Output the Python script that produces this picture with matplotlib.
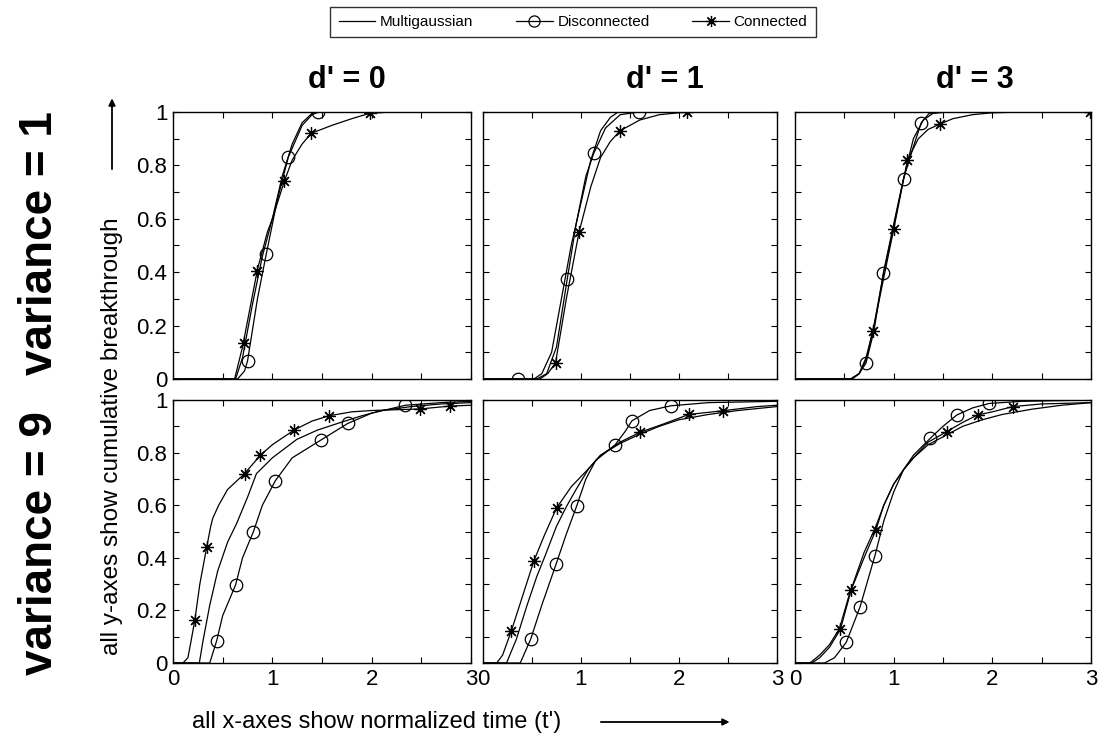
import matplotlib
matplotlib.use('Agg')
import matplotlib.pyplot as plt
from matplotlib.lines import Line2D
from matplotlib.ticker import MultipleLocator, FuncFormatter

plt.rcParams['font.family'] = ['Liberation Sans', 'DejaVu Sans']

# column / row headings
d_labels = ["d' = 0", "d' = 1", "d' = 3"]
var_labels = ['variance = 1', 'variance = 9']
series_names = ['Multigaussian', 'Disconnected', 'Connected']

# ---- variance = 1 ----
# d' = 0
mg_v1_d0 = ([0, 0.63, 0.70, 0.80, 0.90, 1.00, 1.10, 1.20, 1.30, 1.40, 1.50, 3.0],
            [0, 0.00, 0.08, 0.28, 0.46, 0.60, 0.76, 0.88, 0.96, 0.995, 1.0, 1.0])
dc_v1_d0 = ([0, 0.65, 0.72, 0.75, 0.85, 0.94, 1.05, 1.16, 1.30, 1.40, 1.46, 3.0],
            [0, 0.00, 0.03, 0.067, 0.30, 0.47, 0.67, 0.83, 0.95, 0.99, 1.0, 1.0])
cn_v1_d0 = ([0, 0.62, 0.70, 0.85, 0.95, 1.00, 1.12, 1.20, 1.30, 1.39, 1.60, 1.80, 1.98, 2.2, 3.0],
            [0, 0.00, 0.12, 0.41, 0.55, 0.60, 0.74, 0.82, 0.88, 0.92, 0.95, 0.975, 0.995, 1.0, 1.0])
dc_pts_v1_d0 = ([0.75, 0.94, 1.16, 1.46], [0.067, 0.47, 0.83, 1.0])
cn_pts_v1_d0 = ([0.715, 0.85, 1.12, 1.386, 1.98], [0.136, 0.406, 0.743, 0.92, 0.995])

# d' = 1
mg_v1_d1 = ([0, 0.52, 0.60, 0.70, 0.80, 0.90, 1.00, 1.10, 1.20, 1.30, 1.38, 3.0],
            [0, 0.00, 0.02, 0.10, 0.30, 0.50, 0.66, 0.82, 0.93, 0.98, 1.0, 1.0])
dc_v1_d1 = ([0, 0.55, 0.65, 0.75, 0.86, 0.95, 1.05, 1.13, 1.25, 1.40, 1.59, 3.0],
            [0, 0.00, 0.02, 0.12, 0.375, 0.58, 0.76, 0.845, 0.94, 0.99, 1.0, 1.0])
cn_v1_d1 = ([0, 0.58, 0.66, 0.74, 0.85, 0.98, 1.10, 1.20, 1.30, 1.40, 1.60, 1.80, 2.08, 3.0],
            [0, 0.00, 0.02, 0.06, 0.30, 0.55, 0.72, 0.83, 0.89, 0.93, 0.97, 0.99, 1.0, 1.0])
dc_pts_v1_d1 = ([0.36, 0.86, 1.13, 1.59], [0.0, 0.375, 0.845, 1.0])
cn_pts_v1_d1 = ([0.74, 0.98, 1.40, 2.08], [0.06, 0.55, 0.93, 1.0])

# d' = 3
mg_v1_d3 = ([0, 0.56, 0.65, 0.72, 0.80, 0.90, 1.00, 1.10, 1.20, 1.30, 1.40, 1.55, 3.0],
            [0, 0.00, 0.02, 0.07, 0.20, 0.40, 0.57, 0.75, 0.90, 0.97, 0.995, 1.0, 1.0])
dc_v1_d3 = ([0, 0.58, 0.65, 0.72, 0.80, 0.895, 1.00, 1.10, 1.20, 1.28, 1.36, 1.50, 3.0],
            [0, 0.00, 0.02, 0.06, 0.18, 0.396, 0.58, 0.75, 0.87, 0.96, 0.995, 1.0, 1.0])
cn_v1_d3 = ([0, 0.57, 0.65, 0.72, 0.79, 0.90, 1.00, 1.14, 1.25, 1.35, 1.47, 1.60, 1.80, 2.0, 2.3, 3.0],
            [0, 0.00, 0.02, 0.08, 0.18, 0.38, 0.56, 0.82, 0.90, 0.935, 0.955, 0.975, 0.99, 0.997, 1.0, 1.0])
dc_pts_v1_d3 = ([0.72, 0.895, 1.10, 1.28], [0.06, 0.396, 0.75, 0.96])
cn_pts_v1_d3 = ([0.79, 1.00, 1.14, 1.47, 2.99], [0.18, 0.56, 0.82, 0.955, 1.0])

# ---- variance = 9 ----
# d' = 0
mg_v9_d0 = ([0, 0.265, 0.30, 0.37, 0.45, 0.55, 0.64, 0.75, 0.84, 1.00, 1.245, 1.45, 1.65, 1.90, 2.10, 2.40, 2.70, 3.0],
            [0, 0.00, 0.08, 0.22, 0.35, 0.46, 0.53, 0.63, 0.72, 0.78, 0.85, 0.885, 0.91, 0.94, 0.96, 0.975, 0.985, 0.99])
dc_v9_d0 = ([0, 0.37, 0.44, 0.50, 0.63, 0.70, 0.81, 0.90, 1.03, 1.20, 1.49, 1.76, 2.00, 2.34, 2.70, 3.0],
            [0, 0.00, 0.085, 0.18, 0.297, 0.40, 0.50, 0.60, 0.693, 0.78, 0.848, 0.911, 0.95, 0.98, 0.99, 0.995])
cn_v9_d0 = ([0, 0.10, 0.15, 0.18, 0.22, 0.27, 0.34, 0.38, 0.40, 0.46, 0.55, 0.72, 0.88, 1.00, 1.22, 1.40, 1.57, 1.80, 2.00, 2.49, 2.79, 3.0],
            [0, 0.00, 0.02, 0.08, 0.163, 0.30, 0.442, 0.52, 0.55, 0.60, 0.66, 0.72, 0.79, 0.83, 0.886, 0.92, 0.94, 0.955, 0.96, 0.966, 0.977, 0.98])
dc_pts_v9_d0 = ([0.44, 0.63, 0.81, 1.03, 1.49, 1.76, 2.34], [0.085, 0.297, 0.50, 0.693, 0.848, 0.911, 0.98])
cn_pts_v9_d0 = ([0.22, 0.34, 0.72, 0.88, 1.22, 1.57, 2.49, 2.79], [0.163, 0.442, 0.72, 0.79, 0.886, 0.94, 0.966, 0.977])

# d' = 1
mg_v9_d1 = ([0, 0.24, 0.34, 0.45, 0.55, 0.63, 0.75, 0.85, 0.95, 1.08, 1.20, 1.40, 1.60, 1.80, 2.00, 2.30, 2.60, 3.0],
            [0, 0.00, 0.09, 0.22, 0.33, 0.404, 0.52, 0.594, 0.66, 0.74, 0.79, 0.835, 0.87, 0.90, 0.925, 0.945, 0.96, 0.975])
dc_v9_d1 = ([0, 0.38, 0.486, 0.60, 0.745, 0.85, 0.956, 1.05, 1.15, 1.25, 1.347, 1.45, 1.52, 1.70, 1.918, 2.30, 3.0],
            [0, 0.00, 0.09, 0.22, 0.375, 0.49, 0.597, 0.70, 0.77, 0.80, 0.829, 0.88, 0.921, 0.96, 0.978, 0.99, 0.995])
cn_v9_d1 = ([0, 0.14, 0.20, 0.29, 0.40, 0.52, 0.62, 0.75, 0.90, 1.08, 1.20, 1.40, 1.60, 1.85, 2.10, 2.445, 2.80, 3.0],
            [0, 0.00, 0.03, 0.123, 0.25, 0.389, 0.48, 0.589, 0.67, 0.74, 0.79, 0.84, 0.877, 0.91, 0.945, 0.959, 0.975, 0.98])
dc_pts_v9_d1 = ([0.486, 0.745, 0.956, 1.347, 1.52, 1.918], [0.09, 0.375, 0.597, 0.829, 0.921, 0.978])
cn_pts_v9_d1 = ([0.29, 0.52, 0.75, 1.60, 2.10, 2.445], [0.123, 0.389, 0.589, 0.877, 0.945, 0.959])

# d' = 3
mg_v9_d3 = ([0, 0.15, 0.25, 0.35, 0.45, 0.55, 0.70, 0.82, 0.90, 1.00, 1.10, 1.20, 1.35, 1.50, 1.70, 1.90, 2.10, 2.40, 2.70, 3.0],
            [0, 0.00, 0.03, 0.07, 0.13, 0.26, 0.42, 0.52, 0.60, 0.68, 0.735, 0.78, 0.83, 0.86, 0.90, 0.925, 0.945, 0.965, 0.98, 0.99])
dc_v9_d3 = ([0, 0.30, 0.40, 0.52, 0.66, 0.81, 0.90, 1.00, 1.10, 1.20, 1.37, 1.50, 1.64, 1.80, 1.97, 2.30, 3.0],
            [0, 0.00, 0.02, 0.079, 0.214, 0.408, 0.54, 0.65, 0.735, 0.79, 0.854, 0.90, 0.943, 0.97, 0.987, 0.995, 1.0])
cn_v9_d3 = ([0, 0.17, 0.25, 0.35, 0.46, 0.57, 0.70, 0.82, 0.90, 1.00, 1.10, 1.20, 1.35, 1.54, 1.70, 1.85, 2.00, 2.21, 2.50, 3.0],
            [0, 0.00, 0.02, 0.06, 0.128, 0.278, 0.40, 0.506, 0.60, 0.68, 0.735, 0.78, 0.84, 0.88, 0.915, 0.943, 0.955, 0.975, 0.985, 0.99])
dc_pts_v9_d3 = ([0.52, 0.66, 0.81, 1.37, 1.64, 1.97], [0.079, 0.214, 0.408, 0.854, 0.943, 0.987])
cn_pts_v9_d3 = ([0.46, 0.57, 0.82, 1.54, 1.85, 2.21], [0.128, 0.278, 0.506, 0.88, 0.943, 0.975])

panels = {
    (0, 0): (mg_v1_d0, dc_v1_d0, cn_v1_d0, dc_pts_v1_d0, cn_pts_v1_d0),
    (0, 1): (mg_v1_d1, dc_v1_d1, cn_v1_d1, dc_pts_v1_d1, cn_pts_v1_d1),
    (0, 2): (mg_v1_d3, dc_v1_d3, cn_v1_d3, dc_pts_v1_d3, cn_pts_v1_d3),
    (1, 0): (mg_v9_d0, dc_v9_d0, cn_v9_d0, dc_pts_v9_d0, cn_pts_v9_d0),
    (1, 1): (mg_v9_d1, dc_v9_d1, cn_v9_d1, dc_pts_v9_d1, cn_pts_v9_d1),
    (1, 2): (mg_v9_d3, dc_v9_d3, cn_v9_d3, dc_pts_v9_d3, cn_pts_v9_d3),
}

W, H = 1099, 742
fig = plt.figure(figsize=(W / 100, H / 100), dpi=100)

# axes boxes in pixels: left, top, right, bottom
col_px = [(173, 471), (483, 777), (795, 1091)]
row_px = [(112, 379), (400, 663)]

star = (8, 2, 0)
lw = 0.9
fmt = FuncFormatter(lambda v, p: '%g' % round(v, 2))

for (r, c), (mg, dc, cn, dcp, cnp) in panels.items():
    x0, x1 = col_px[c]
    y0, y1 = row_px[r]
    ax = fig.add_axes([x0 / W, 1 - y1 / H, (x1 - x0) / W, (y1 - y0) / H])
    ax.plot(mg[0], mg[1], color='black', lw=lw)
    ax.plot(dc[0], dc[1], color='black', lw=lw)
    ax.plot(cn[0], cn[1], color='black', lw=lw)
    ax.plot(dcp[0], dcp[1], ls='none', marker='o', ms=9, mfc='none', mec='black', mew=lw)
    ax.plot(cnp[0], cnp[1], ls='none', marker=star, ms=9, mec='black', mew=lw)
    ax.set_xlim(0, 3)
    ax.set_ylim(0, 1)
    ax.xaxis.set_major_locator(MultipleLocator(1))
    ax.xaxis.set_minor_locator(MultipleLocator(0.5))
    ax.yaxis.set_major_locator(MultipleLocator(0.2))
    ax.yaxis.set_minor_locator(MultipleLocator(0.1))
    ax.xaxis.set_major_formatter(fmt)
    ax.yaxis.set_major_formatter(fmt)
    ax.tick_params(which='both', direction='in', top=True, right=True, length=4, width=0.8)
    ax.tick_params(labelsize=16, labelleft=(c == 0), labelbottom=(r == 1), pad=4)
    for s in ax.spines.values():
        s.set_linewidth(1.0)

# column titles
title_x = [347, 665, 975]
for tx, lab in zip(title_x, d_labels):
    fig.text(tx / W, 1 - 80 / H, lab, ha='center', va='center', fontsize=22, fontweight='bold')

# row titles
row_y = [243, 543]
for ry, lab in zip(row_y, var_labels):
    fig.text(40 / W, 1 - ry / H, lab, ha='center', va='center', rotation=90,
             fontsize=33, fontweight='bold')

# axis descriptions with arrows
fig.text(112 / W, 1 - 655 / H, 'all y-axes show cumulative breakthrough', rotation=90,
         ha='center', va='bottom', fontsize=17.5)
fig.add_artist(plt.annotate('', xy=(112 / W, 1 - 96 / H), xytext=(112 / W, 1 - 172 / H),
                            xycoords='figure fraction', textcoords='figure fraction',
                            arrowprops=dict(arrowstyle='-|>', color='black', lw=1)))
fig.text(192 / W, 1 - 722 / H, "all x-axes show normalized time (t')",
         ha='left', va='center', fontsize=17)
fig.add_artist(plt.annotate('', xy=(732 / W, 1 - 722 / H), xytext=(598 / W, 1 - 722 / H),
                            xycoords='figure fraction', textcoords='figure fraction',
                            arrowprops=dict(arrowstyle='-|>', color='black', lw=1)))

# legend
handles = [
    Line2D([], [], color='black', lw=lw),
    Line2D([], [], color='black', lw=lw, marker='o', ms=8, mfc='none', mew=lw),
    Line2D([], [], color='black', lw=lw, marker=star, ms=8, mew=lw),
]
fig.legend(handles, series_names, loc='center', bbox_to_anchor=(573 / W, 1 - 22 / H),
           ncol=3, frameon=True, fancybox=False, edgecolor='black', fontsize=11,
           handlelength=2.4, handletextpad=0.3, columnspacing=2.8, borderpad=0.55)

fig.savefig('out.png', dpi=100)
